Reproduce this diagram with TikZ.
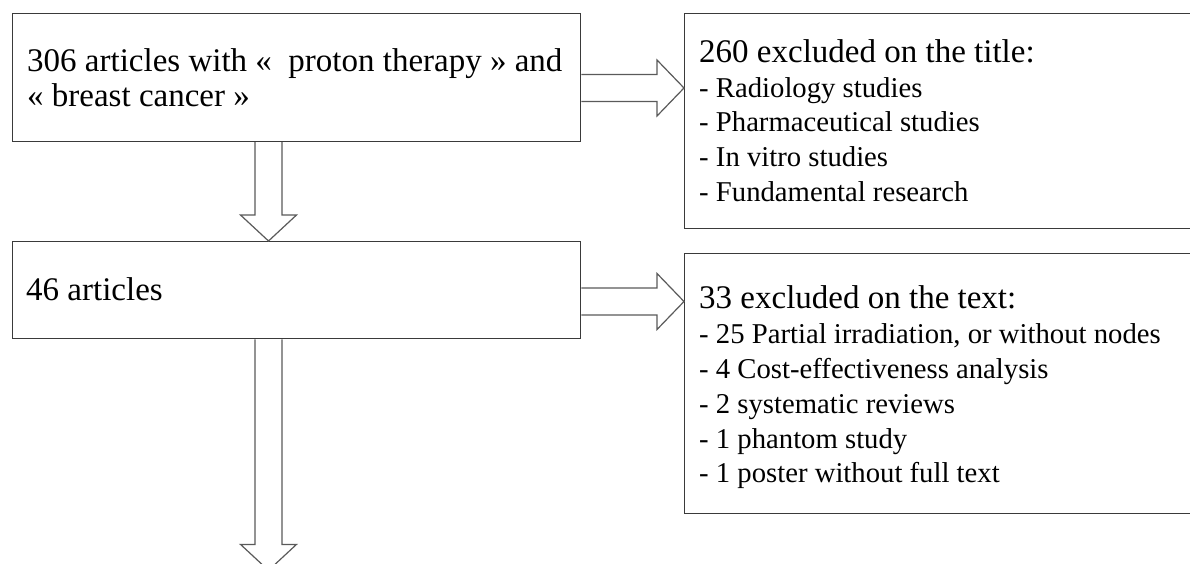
\documentclass[tikz,border=0pt]{standalone}
\usepackage{fontspec}
\setmainfont{Liberation Serif}
\usetikzlibrary{calc}
\definecolor{boxcol}{HTML}{3A3A3A}
\definecolor{arrcol}{HTML}{5A5A5A}
\begin{document}
\begin{tikzpicture}[x=1pt,y=-1pt,
  box/.style={draw=boxcol, line width=1.4pt, fill=none, inner sep=0pt, anchor=north west},
  big/.style={anchor=base west, inner sep=0pt, font=\fontsize{33}{35}\selectfont},
  item/.style={anchor=base west, inner sep=0pt, font=\fontsize{28.7}{35}\selectfont},
  arr/.style={draw=arrcol, line width=1.2pt, line join=miter}]
\clip (0,0) rectangle (1190,564);
\fill[white] (0,0) rectangle (1190,564);
% boxes
\node[box, minimum width=568.5pt, minimum height=128pt] (b1) at (11.5,12.7) {};
\node[box, minimum width=568.5pt, minimum height=97pt] (b2) at (11.5,241) {};
\node[box, minimum width=560pt, minimum height=215pt] (r1) at (684,12.7) {};
\node[box, minimum width=560pt, minimum height=260pt] (r2) at (684,253) {};
% texts
\node[big] (t1a) at (27,72) {306 articles with «\ \ proton therapy » and};
\node[big] (t1b) at (27,107) {« breast cancer »};
\node[big] (t2) at (26,300) {46 articles};
\node[big] (r1t) at (699,63) {260 excluded on the title:};
\node[item] (r1a) at (699,98) {- Radiology studies};
\node[item] (r1b) at (699,132) {- Pharmaceutical studies};
\node[item] (r1c) at (699,166.5) {- In vitro studies};
\node[item] (r1d) at (699,201) {- Fundamental research};
\node[big] (r2t) at (699,308) {33 excluded on the text:};
\node[item] (r2a) at (699,343) {- 25 Partial irradiation, or without nodes};
\node[item] (r2b) at (699,378) {- 4 Cost-effectiveness analysis};
\node[item] (r2c) at (699,413) {- 2 systematic reviews};
\node[item] (r2d) at (699,448) {- 1 phantom study};
\node[item] (r2e) at (699,482) {- 1 poster without full text};
% connector coordinates
\coordinate (a1s) at ($(b1.north east)+(0,75.3)$);
\coordinate (a1e) at (r1.west |- a1s);
\coordinate (a2s) at ($(b2.north east)+(0,60.5)$);
\coordinate (a2e) at (r2.west |- a2s);
\coordinate (d1s) at ($(b1.south west)+(257,0)$);
\coordinate (d1e) at (d1s |- b2.north);
\coordinate (d2s) at ($(b2.south west)+(257,0)$);
\coordinate (d2e) at ($(d2s)+(0,231)$);
% right block arrows
\draw[arr] ($(a1s)+(0,-13.5)$) -- ($(a1e)+(-27,-13.5)$) -- ($(a1e)+(-27,-28)$) -- (a1e)
  -- ($(a1e)+(-27,28)$) -- ($(a1e)+(-27,13.5)$) -- ($(a1s)+(0,13.5)$);
\draw[arr] ($(a2s)+(0,-13.5)$) -- ($(a2e)+(-27,-13.5)$) -- ($(a2e)+(-27,-28)$) -- (a2e)
  -- ($(a2e)+(-27,28)$) -- ($(a2e)+(-27,13.5)$) -- ($(a2s)+(0,13.5)$);
% down block arrows
\draw[arr] ($(d1s)+(-13.5,0)$) -- ($(d1e)+(-13.5,-26)$) -- ($(d1e)+(-28,-26)$) -- (d1e)
  -- ($(d1e)+(28,-26)$) -- ($(d1e)+(13.5,-26)$) -- ($(d1s)+(13.5,0)$);
\draw[arr] ($(d2s)+(-13.5,0)$) -- ($(d2e)+(-13.5,-26)$) -- ($(d2e)+(-28,-26)$) -- (d2e)
  -- ($(d2e)+(28,-26)$) -- ($(d2e)+(13.5,-26)$) -- ($(d2s)+(13.5,0)$);
\end{tikzpicture}
\end{document}
